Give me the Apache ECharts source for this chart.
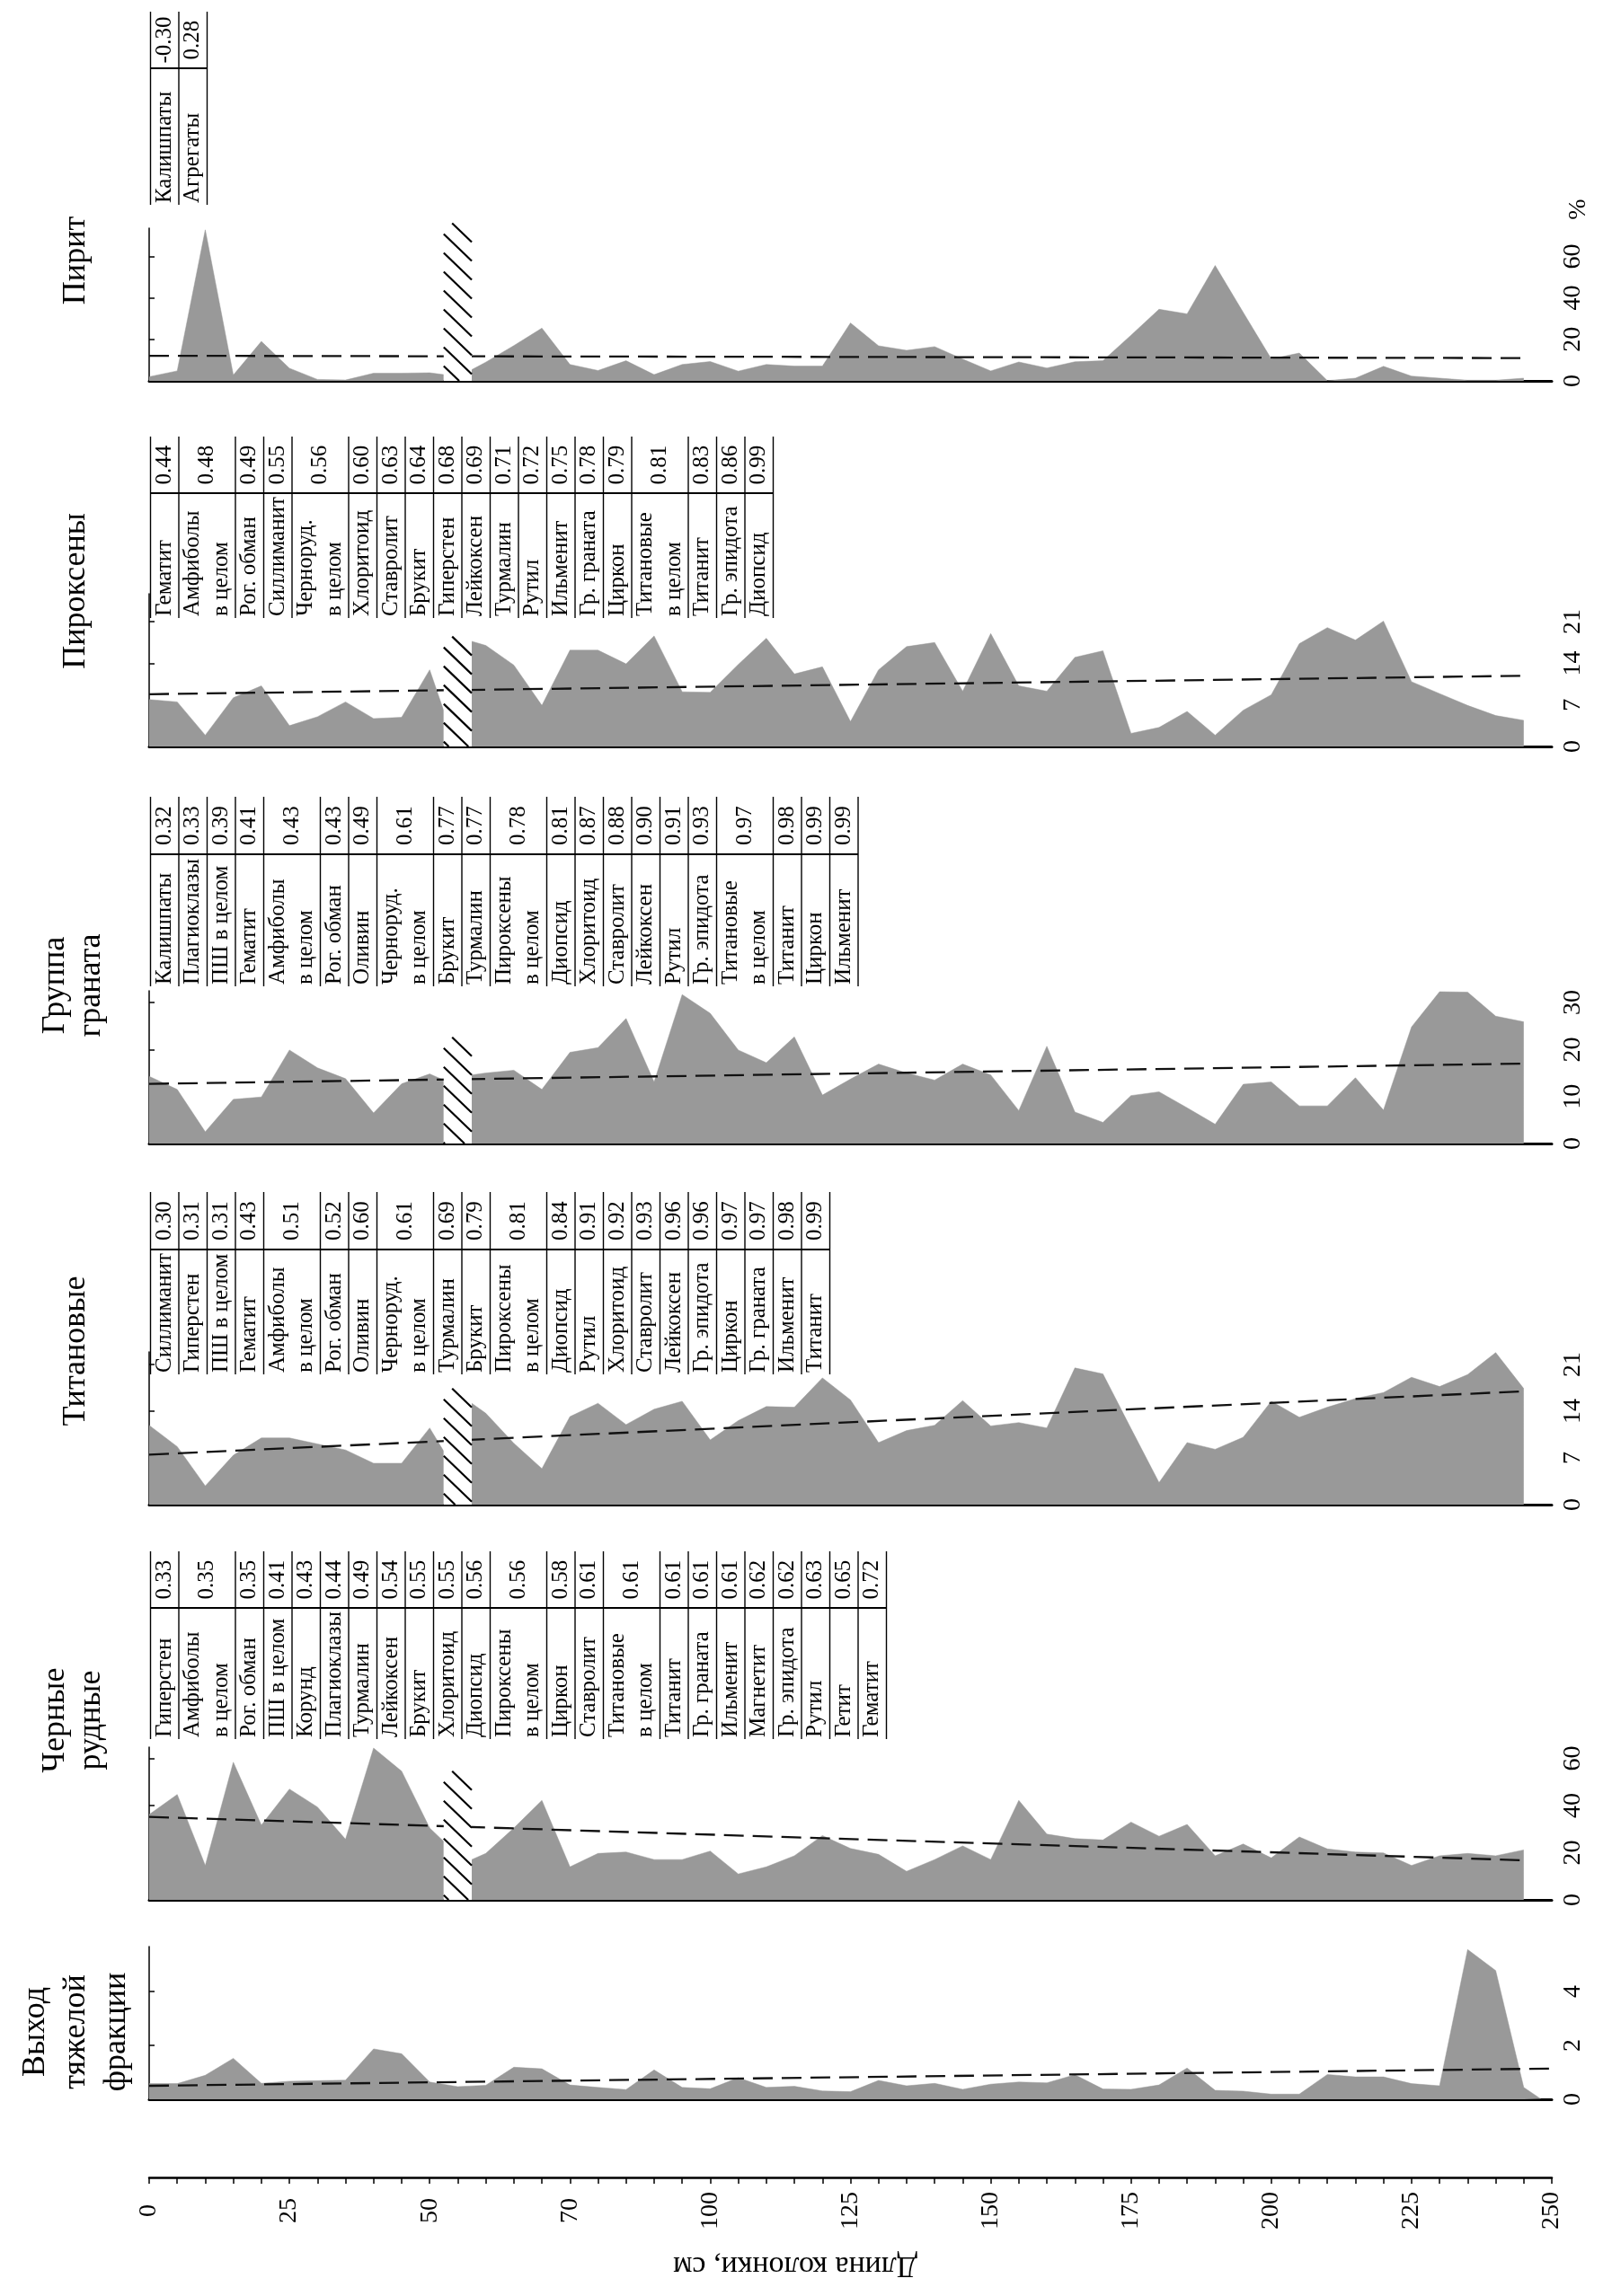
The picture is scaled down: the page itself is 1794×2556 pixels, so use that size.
<!DOCTYPE html>
<html><head><meta charset="utf-8">
<script src="https://cdn.jsdelivr.net/npm/echarts@6/dist/echarts.min.js"></script>
<style>html,body{margin:0;padding:0;background:#fff}#c{width:1794px;height:2556px}</style>
</head><body><div id="c"></div>
<script>
// ---------- DATA ----------
const depths = [0,5,10,15,20,25,30,35,40,45,50,55,60,65,70,75,80,85,90,95,100,105,110,115,120,125,130,135,140,145,150,155,160,165,170,175,180,185,190,195,200,205,210,215,220,225,230,235,240,245];
const hatchDepths = [52.5, 57.5];

const pyrite = [2.0,4.8,72.8,2.8,19.0,6.1,0.7,0.4,3.7,3.7,3.9,null,9.0,17.0,25.4,7.9,5.0,9.7,3.0,7.9,9.3,4.7,7.9,7.1,7.1,27.9,16.9,14.7,16.5,10.5,4.8,9.1,6.2,9.2,9.7,22.0,34.5,32.3,55.6,33.0,10.6,13.4,0.1,1.3,7.0,2.3,1.3,0.3,0.3,1.3];
const pyroxenes = [7.9,7.5,1.9,8.2,10.2,3.5,5.0,7.5,4.7,4.9,12.9,null,17.0,13.7,6.9,16.2,16.2,13.9,18.6,9.2,9.1,13.8,18.2,12.2,13.4,4.2,12.9,16.8,17.5,9.3,19.0,10.2,9.3,15.0,16.1,2.2,3.2,5.9,1.9,6.1,8.7,17.3,20.0,17.9,21.1,10.9,8.9,6.9,5.2,4.4];
const garnet = [14.3,11.5,2.5,9.4,9.9,19.9,16.1,13.8,6.5,12.7,14.8,null,15.0,15.6,11.5,19.4,20.4,26.6,13.1,31.7,27.7,19.9,17.2,22.7,10.3,13.7,16.9,15.0,13.5,16.9,14.6,7.0,20.7,6.7,4.5,10.2,11.0,7.6,4.1,12.6,13.1,8.0,8.0,14.0,7.1,24.8,32.3,32.2,27.1,25.9];
const titanium = [11.9,8.7,2.8,7.4,10.0,10.0,9.1,8.2,6.2,6.2,11.5,null,13.7,9.2,5.4,13.2,15.2,12.0,14.3,15.5,9.7,12.6,14.7,14.6,19.0,15.7,9.3,11.1,11.9,15.6,11.8,12.3,11.5,20.5,19.6,11.4,3.3,9.3,8.3,10.1,15.5,13.1,14.6,15.9,16.8,19.1,17.7,19.5,22.8,17.4];
const blackOre = [36.2,44.7,14.6,58.4,31.7,47.0,39.4,25.7,64.4,54.6,30.5,null,19.7,30.5,42.2,14.0,19.7,20.3,17.1,17.1,20.7,11.0,14.0,18.7,27.3,21.8,19.3,12.1,17.1,22.9,17.1,42.2,27.9,26.0,25.4,33.0,27.0,32.0,18.7,23.7,17.8,26.7,21.6,20.3,19.9,14.6,18.7,19.7,18.7,21.2];
const heavyYield = [0.58,0.58,0.89,1.52,0.59,0.67,0.69,0.71,1.87,1.69,0.64,0.47,0.52,1.19,1.13,0.53,0.44,0.36,1.09,0.44,0.39,0.80,0.44,0.48,0.31,0.28,0.70,0.50,0.59,0.37,0.56,0.64,0.61,0.91,0.38,0.37,0.53,1.16,0.33,0.30,0.19,0.19,0.92,0.83,0.83,0.58,0.50,5.56,4.78,0.44];
const heavyYieldTail = [248, 0.02];

// values at the hatch edges [left, right]
const pyriteEdge = [3.0, 5.4];
const pyroxenesEdge = [6.0, 17.7];
const garnetEdge = [13.5, 14.6];
const titaniumEdge = [8.0, 15.2];
const blackOreEdge = [24.8, 17.1];

// hatch tops (value units)
const pyriteHatchTop = 76;
const pyroxenesHatchTop = 18.5;
const garnetHatchTop = 22.6;
const titaniumHatchTop = 17.4;
const blackOreHatchTop = 54.6;

// trend lines [depth, value]
const pyriteTrend = [[0, 12.1], [245, 11.0]];
const pyroxenesTrend = [[0, 8.8], [245, 11.9]];
const garnetTrend = [[0, 12.7], [245, 17.0]];
const titaniumTrend = [[0, 7.5], [245, 17.0]];
const blackOreTrend = [[0, 35.2], [245, 16.8]];
const heavyYieldTrend = [[0, 0.50], [250, 1.14]];

// axis ticks / labels
const pyriteTicks = [0, 20, 40, 60];
const pyroxenesTicks = [0, 7, 14, 21];
const garnetTicks = [0, 10, 20, 30];
const titaniumTicks = [0, 7, 14, 21];
const blackOreTicks = [0, 20, 40, 60];
const heavyYieldTicks = [0, 2, 4];
const depthLabelValues = [0, 25, 50, 75, 100, 125, 150, 175, 200, 225, 250];
const depthLabels = ['0', '25', '50', '70', '100', '125', '150', '175', '200', '225', '250'];

// titles
const titlePyrite = ['Пирит'];
const titlePyroxenes = ['Пироксены'];
const titleGarnet = ['Группа', 'граната'];
const titleTitanium = ['Титановые'];
const titleBlackOre = ['Черные', 'рудные'];
const titleYield = ['Выход', 'тяжелой', 'фракции'];
const depthAxisName = 'Длина колонки, см';
const unitLabel = '%';

// correlation tables
const pyriteNames = ['Калишпаты', 'Агрегаты'];
const pyriteR = ['-0.30', '0.28'];
const pyroxenesNames = ['Гематит','Амфиболы\nв целом','Рог. обман','Силлиманит','Черноруд.\nв целом','Хлоритоид','Ставролит','Брукит','Гиперстен','Лейкоксен','Турмалин','Рутил','Ильменит','Гр. граната','Циркон','Титановые\nв целом','Титанит','Гр. эпидота','Диопсид'];
const pyroxenesR = ['0.44','0.48','0.49','0.55','0.56','0.60','0.63','0.64','0.68','0.69','0.71','0.72','0.75','0.78','0.79','0.81','0.83','0.86','0.99'];
const garnetNames = ['Калишпаты','Плагиоклазы','ПШ в целом','Гематит','Амфиболы\nв целом','Рог. обман','Оливин','Черноруд.\nв целом','Брукит','Турмалин','Пироксены\nв целом','Диопсид','Хлоритоид','Ставролит','Лейкоксен','Рутил','Гр. эпидота','Титановые\nв целом','Титанит','Циркон','Ильменит'];
const garnetR = ['0.32','0.33','0.39','0.41','0.43','0.43','0.49','0.61','0.77','0.77','0.78','0.81','0.87','0.88','0.90','0.91','0.93','0.97','0.98','0.99','0.99'];
const titaniumNames = ['Силлиманит','Гиперстен','ПШ в целом','Гематит','Амфиболы\nв целом','Рог. обман','Оливин','Черноруд.\nв целом','Турмалин','Брукит','Пироксены\nв целом','Диопсид','Рутил','Хлоритоид','Ставролит','Лейкоксен','Гр. эпидота','Циркон','Гр. граната','Ильменит','Титанит'];
const titaniumR = ['0.30','0.31','0.31','0.43','0.51','0.52','0.60','0.61','0.69','0.79','0.81','0.84','0.91','0.92','0.93','0.96','0.96','0.97','0.97','0.98','0.99'];
const blackOreNames = ['Гиперстен','Амфиболы\nв целом','Рог. обман','ПШ в целом','Корунд','Плагиоклазы','Турмалин','Лейкоксен','Брукит','Хлоритоид','Диопсид','Пироксены\nв целом','Циркон','Ставролит','Титановые\nв целом','Титанит','Гр. граната','Ильменит','Магнетит','Гр. эпидота','Рутил','Гетит','Гематит'];
const blackOreR = ['0.33','0.35','0.35','0.41','0.43','0.44','0.49','0.54','0.55','0.55','0.56','0.56','0.58','0.61','0.61','0.61','0.61','0.61','0.62','0.62','0.63','0.65','0.72'];

// ---------- LAYOUT ----------
const FONT = '"Liberation Serif", "Times New Roman", serif';
const GRID_LEFT = 166, GRID_WIDTH = 1561, GRID_H = 170;
const AREA = '#999999';

const panels = [
  {vals: pyrite, edge: pyriteEdge, hatch: pyriteHatchTop, trend: pyriteTrend, ticks: pyriteTicks, max: 73.6, base: 424,
   title: titlePyrite, tcy: 290, tx: [85], names: pyriteNames, r: pyriteR, tab: [13, 76, 228]},
  {vals: pyroxenes, edge: pyroxenesEdge, hatch: pyroxenesHatchTop, trend: pyroxenesTrend, ticks: pyroxenesTicks, max: 25.7, base: 831,
   title: titlePyroxenes, tcy: 658, tx: [85], names: pyroxenesNames, r: pyroxenesR, tab: [486, 549, 688]},
  {vals: garnet, edge: garnetEdge, hatch: garnetHatchTop, trend: garnetTrend, ticks: garnetTicks, max: 32.5, base: 1273,
   title: titleGarnet, tcy: 1097, tx: [62, 102], names: garnetNames, r: garnetR, tab: [887, 951, 1098]},
  {vals: titanium, edge: titaniumEdge, hatch: titaniumHatchTop, trend: titaniumTrend, ticks: titaniumTicks, max: 22.9, base: 1675,
   title: titleTitanium, tcy: 1504, tx: [85], names: titaniumNames, r: titaniumR, tab: [1327, 1391, 1530]},
  {vals: blackOre, edge: blackOreEdge, hatch: blackOreHatchTop, trend: blackOreTrend, ticks: blackOreTicks, max: 64.8, base: 2115,
   title: titleBlackOre, tcy: 1915, tx: [62, 102], names: blackOreNames, r: blackOreR, tab: [1727, 1790, 1936]},
  {vals: heavyYield, edge: null, hatch: null, trend: heavyYieldTrend, ticks: heavyYieldTicks, max: 5.67, base: 2337,
   title: titleYield, tcy: 2262, tx: [40, 85, 130], names: null, r: null, tab: null, tail: heavyYieldTail}
];

function buildData(p) {
  const out = [];
  depths.forEach((d, i) => {
    const v = p.vals[i];
    if (v === null) {
      out.push([hatchDepths[0], p.edge[0]]);
      out.push([d, '-']);
      out.push([hatchDepths[1], p.edge[1]]);
    } else out.push([d, v]);
  });
  if (p.tail) out.push(p.tail);
  return out;
}

function hatchRender(params, api) {
  const p0 = api.coord([api.value(0), 0]);
  const p1 = api.coord([api.value(1), api.value(2)]);
  const left = p0[0], right = p1[0], bottom = p0[1], top = p1[1];
  const w = right - left;
  const children = [{type: 'rect', shape: {x: left, y: top, width: w, height: bottom - top}, style: {fill: '#fff'}}];
  const drop = 30, gap = 21;
  for (let y = top - drop; y < bottom; y += gap) {
    let xa = left, ya = y, xb = right, yb = y + drop;
    if (ya < top) { xa = left + (top - y) / drop * w; ya = top; }
    if (yb > bottom) { xb = left + (bottom - y) / drop * w; yb = bottom; }
    if (xb > xa + 0.5) children.push({type: 'line', shape: {x1: xa, y1: ya, x2: xb, y2: yb}, style: {stroke: '#000', lineWidth: 2.2}});
  }
  return {type: 'group', children};
}

const grid = [], xAxis = [], yAxis = [], series = [], graphic = [];
panels.forEach((p, i) => {
  grid.push({left: GRID_LEFT, width: GRID_WIDTH, top: p.base - GRID_H, height: GRID_H});
  xAxis.push({gridIndex: i, type: 'value', min: 0, max: 250, axisLine: {show: true, onZero: false, lineStyle: {color: '#000', width: 3}},
    axisTick: {show: false}, axisLabel: {show: false}, splitLine: {show: false}});
  yAxis.push({gridIndex: i, type: 'value', position: 'right', min: 0, max: p.max,
    axisLine: {show: true, lineStyle: {color: '#000', width: 1.5}},
    axisTick: {show: true, customValues: p.ticks, length: 6, lineStyle: {color: '#000', width: 1.5}},
    axisLabel: {show: true, customValues: p.ticks, rotate: 90, margin: 10, fontSize: 28, fontFamily: FONT, color: '#000'},
    splitLine: {show: false}});
  series.push({type: 'line', xAxisIndex: i, yAxisIndex: i, data: buildData(p), symbol: 'none', connectNulls: false,
    lineStyle: {color: AREA, width: 0.5}, areaStyle: {color: AREA, opacity: 1}, z: 2, silent: true});
  series.push({type: 'line', xAxisIndex: i, yAxisIndex: i, data: p.trend, symbol: 'none',
    lineStyle: {color: '#111', width: 2.3, type: [22, 10]}, z: 3, silent: true});
  if (p.hatch !== null) {
    series.push({type: 'custom', xAxisIndex: i, yAxisIndex: i, renderItem: hatchRender, clip: false,
      encode: {x: [0, 1], y: 2}, data: [[hatchDepths[0], hatchDepths[1], p.hatch]], z: 4, silent: true});
  }
  // title
  p.title.forEach((t, j) => {
    graphic.push({type: 'text', x: p.tx[j], y: p.tcy, rotation: Math.PI / 2, z: 100,
      style: {text: t, fill: '#000', font: '36px ' + FONT, align: 'center', verticalAlign: 'middle'}});
  });
  // table
  if (p.names) {
    const [top, sep, bottom] = p.tab;
    const X0 = 167.5, ROW = 31.5;
    let k = 0;
    const bounds = [X0];
    p.names.forEach((nm, j) => {
      const lines = nm.split('\n');
      lines.forEach((ln, m) => {
        graphic.push({type: 'text', x: X0 + ROW * (k + m + 0.5), y: bottom - 2, rotation: Math.PI / 2, z: 100,
          style: {text: ln, fill: '#000', font: '25px ' + FONT, align: 'left', verticalAlign: 'middle'}});
      });
      graphic.push({type: 'text', x: X0 + ROW * (k + lines.length / 2), y: (top + sep) / 2, rotation: Math.PI / 2, z: 100,
        style: {text: p.r[j], fill: '#000', font: '25px ' + FONT, align: 'center', verticalAlign: 'middle'}});
      k += lines.length;
      bounds.push(X0 + ROW * k);
    });
    bounds.forEach(bx => graphic.push({type: 'line', z: 100, shape: {x1: bx, y1: top, x2: bx, y2: bottom}, style: {stroke: '#000', lineWidth: 1.4}}));
    graphic.push({type: 'line', z: 100, shape: {x1: X0, y1: sep, x2: X0 + ROW * k, y2: sep}, style: {stroke: '#000', lineWidth: 2}});
  }
});

// depth axis (bottom)
xAxis.push({gridIndex: 5, type: 'value', min: 0, max: 250, interval: 5, position: 'bottom', offset: 87,
  axisLine: {show: true, onZero: false, lineStyle: {color: '#000', width: 2.5}},
  axisTick: {show: true, length: 7, lineStyle: {color: '#000', width: 1.5}},
  axisLabel: {show: true, customValues: depthLabelValues, rotate: 90, align: 'center', margin: 37, fontSize: 28, fontFamily: FONT, color: '#000',
    formatter: v => depthLabels[depthLabelValues.indexOf(v)]},
  splitLine: {show: false}});

graphic.push({type: 'text', x: 885, y: 2522, rotation: Math.PI, z: 100,
  style: {text: depthAxisName, fill: '#000', font: '34px ' + FONT, align: 'center', verticalAlign: 'middle'}});
graphic.push({type: 'text', x: 1757, y: 233, rotation: Math.PI / 2, z: 100,
  style: {text: unitLabel, fill: '#000', font: '28px ' + FONT, align: 'center', verticalAlign: 'middle'}});

const chart = echarts.init(document.getElementById('c'), null, {renderer: 'canvas'});
chart.setOption({backgroundColor: '#fff', animation: false, grid, xAxis, yAxis, series, graphic});
</script>
</body></html>
